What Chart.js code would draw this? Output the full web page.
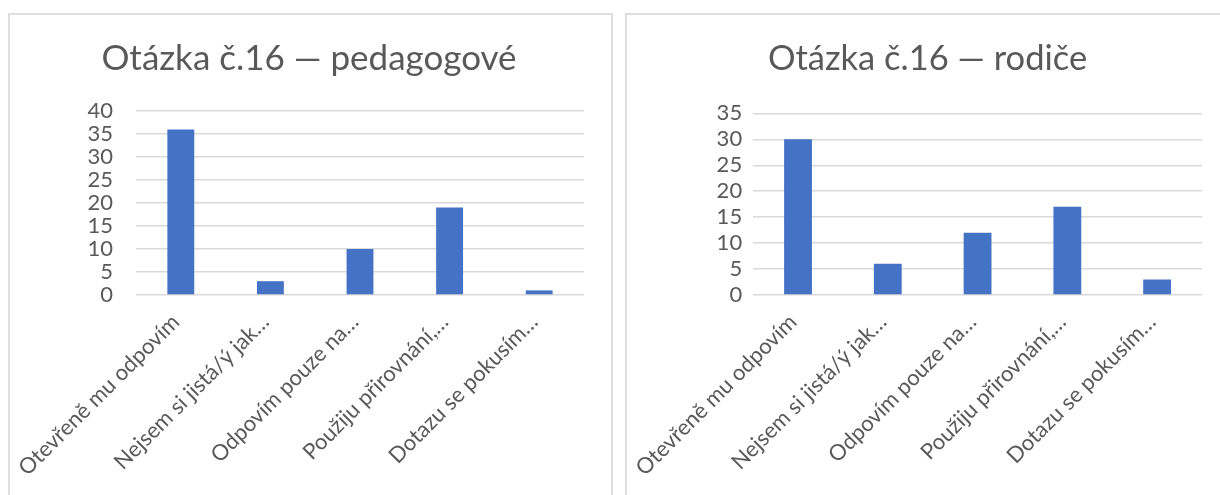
<!DOCTYPE html>
<html>
<head>
<meta charset="utf-8">
<script src="https://cdn.jsdelivr.net/npm/chart.js@4"></script>
<style>
  body { margin: 0; background: #fff; width: 1220px; height: 495px; overflow: hidden; position: relative; }
  .box { position: absolute; border: 2px solid #dedede; box-sizing: border-box; }
  .wrap { position: absolute; }
</style>
</head>
<body>
<div class="box" style="left:8px;top:13px;width:605px;height:500px"></div>
<div class="box" style="left:625px;top:13px;width:620px;height:500px"></div>
<div class="wrap" style="left:8px;top:13px;width:605px;height:482px"><canvas id="ped"></canvas></div>
<div class="wrap" style="left:626px;top:13px;width:594px;height:482px"><canvas id="rod"></canvas></div>
<script>
// odpovedi (zkracene jako v Excelu)
var categories = ['Otevřeně mu odpovím', 'Nejsem si jistá/ý jak…', 'Odpovím pouze na…', 'Použiju přirovnání,…', 'Dotazu se pokusím…'];
var pedagogove = [36, 3, 10, 19, 1];
var rodice = [30, 6, 12, 17, 3];
var pedTicks = [0, 5, 10, 15, 20, 25, 30, 35, 40];
var rodTicks = [0, 5, 10, 15, 20, 25, 30, 35];

var font = 'Lato, "Liberation Sans", sans-serif';
var grey = '#595959';

function makeChart(id, title, values, ticks, lay) {
  return new Chart(document.getElementById(id), {
    type: 'bar',
    data: {
      labels: categories,
      datasets: [{
        data: values,
        backgroundColor: '#4472C4',
        barPercentage: lay.bar,
        categoryPercentage: 1
      }]
    },
    options: {
      responsive: true,
      maintainAspectRatio: false,
      animation: false,
      layout: { padding: { left: lay.padLeft, right: lay.padRight, top: 0, bottom: 0 } },
      plugins: {
        legend: { display: false },
        tooltip: { enabled: false },
        title: {
          display: true,
          text: title,
          color: grey,
          font: { family: font, size: lay.titleSize, weight: 'normal' },
          padding: { top: 25, bottom: lay.titleBottom }
        }
      },
      scales: {
        x: {
          grid: { display: false },
          border: { display: false },
          ticks: {
            color: grey,
            font: { family: font, size: 22 },
            maxRotation: 45,
            minRotation: 45,
            autoSkip: false,
            padding: 6,
            labelOffset: -5
          },
          afterFit: function (s) { s.height = lay.xHeight; }
        },
        y: {
          min: 0,
          max: ticks[ticks.length - 1],
          afterBuildTicks: function (s) { s.ticks = ticks.map(function (v) { return { value: v }; }); },
          grid: { color: '#d9d9d9', lineWidth: 1.5, drawTicks: false },
          border: { display: false },
          ticks: {
            color: grey,
            font: { family: font, size: 22 },
            padding: lay.tickPad,
            autoSkip: false
          },
          afterFit: function (s) { s.width = lay.yWidth; }
        }
      }
    }
  });
}

makeChart('ped', 'Otázka č.16 — pedagogové', pedagogove, pedTicks,
  { padLeft: 26, padRight: 29, yWidth: 102, tickPad: 23, xHeight: 200, titleSize: 35, titleBottom: 31, bar: 0.30 });
makeChart('rod', 'Otázka č.16 — rodiče', rodice, rodTicks,
  { padLeft: 27, padRight: 18, yWidth: 100, tickPad: 11, xHeight: 200, titleSize: 34.5, titleBottom: 34, bar: 0.31 });
</script>
</body>
</html>
